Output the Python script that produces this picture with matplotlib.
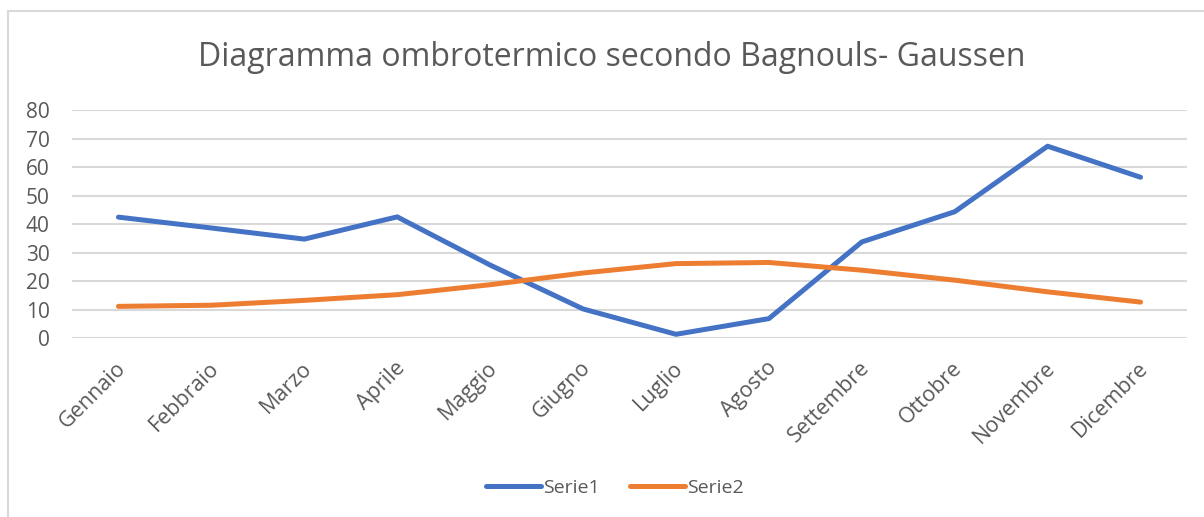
import matplotlib.pyplot as plt
import matplotlib.transforms as mtransforms
from matplotlib.patches import Rectangle

# Dati
mesi = ["Gennaio", "Febbraio", "Marzo", "Aprile", "Maggio", "Giugno",
        "Luglio", "Agosto", "Settembre", "Ottobre", "Novembre", "Dicembre"]
serie1 = [42.4, 38.6, 34.7, 42.5, 25.6, 10.2, 1.3, 6.8, 33.7, 44.3, 67.3, 56.4]
serie2 = [11.1, 11.5, 13.2, 15.2, 18.7, 22.8, 26.1, 26.5, 23.8, 20.3, 16.2, 12.6]
y_ticks = [0, 10, 20, 30, 40, 50, 60, 70, 80]

plt.rcParams['font.family'] = ['Open Sans', 'DejaVu Sans']
grigio = '#595959'

fig = plt.figure(figsize=(12.04, 5.17), dpi=100)

# bordo del riquadro del grafico
fig.patches.append(Rectangle((8 / 1204, -0.1), 1.2, 1.1 - 11 / 517,
                             transform=fig.transFigure, fill=False,
                             edgecolor='#D9D9D9', linewidth=1.5))

ax = fig.add_axes([72 / 1204, 1 - 338 / 517, (1187 - 72) / 1204, (338 - 110) / 517])
x = range(len(mesi))
ax.plot(x, serie1, color='#4472C4', linewidth=3.6, label='Serie1',
        solid_capstyle='round', solid_joinstyle='round')
ax.plot(x, serie2, color='#ED7D31', linewidth=3.6, label='Serie2',
        solid_capstyle='round', solid_joinstyle='round')

ax.set_xlim(-0.5, len(mesi) - 0.5)
ax.set_ylim(0, 80)
ax.set_yticks(y_ticks)
ax.set_xticks(list(x))
ax.set_xticklabels(mesi, rotation=45, ha='right', va='top', rotation_mode='anchor')
ax.tick_params(axis='y', length=0, labelsize=15, colors=grigio, pad=16)
ax.tick_params(axis='x', length=0, labelsize=15.5, colors=grigio, pad=14)
# spostamento delle etichette ruotate
sposta = mtransforms.ScaledTranslation(-3 / 100, 0, fig.dpi_scale_trans)
for lab in ax.get_xticklabels():
    lab.set_transform(lab.get_transform() + sposta)
ax.grid(axis='y', color='#D9D9D9', linewidth=1.5)
ax.set_axisbelow(True)
for s in ax.spines.values():
    s.set_visible(False)

fig.text(612 / 1204, 1 - 57 / 517, "Diagramma ombrotermico secondo Bagnouls- Gaussen",
         ha='center', va='center', fontsize=23, color=grigio)

fig.legend(loc='center', bbox_to_anchor=(615 / 1204, 1 - 488 / 517), ncol=2,
           frameon=False, fontsize=14, labelcolor=grigio, handlelength=2.8,
           handletextpad=0.1, columnspacing=1.6)

fig.savefig('out.png', dpi=100)
